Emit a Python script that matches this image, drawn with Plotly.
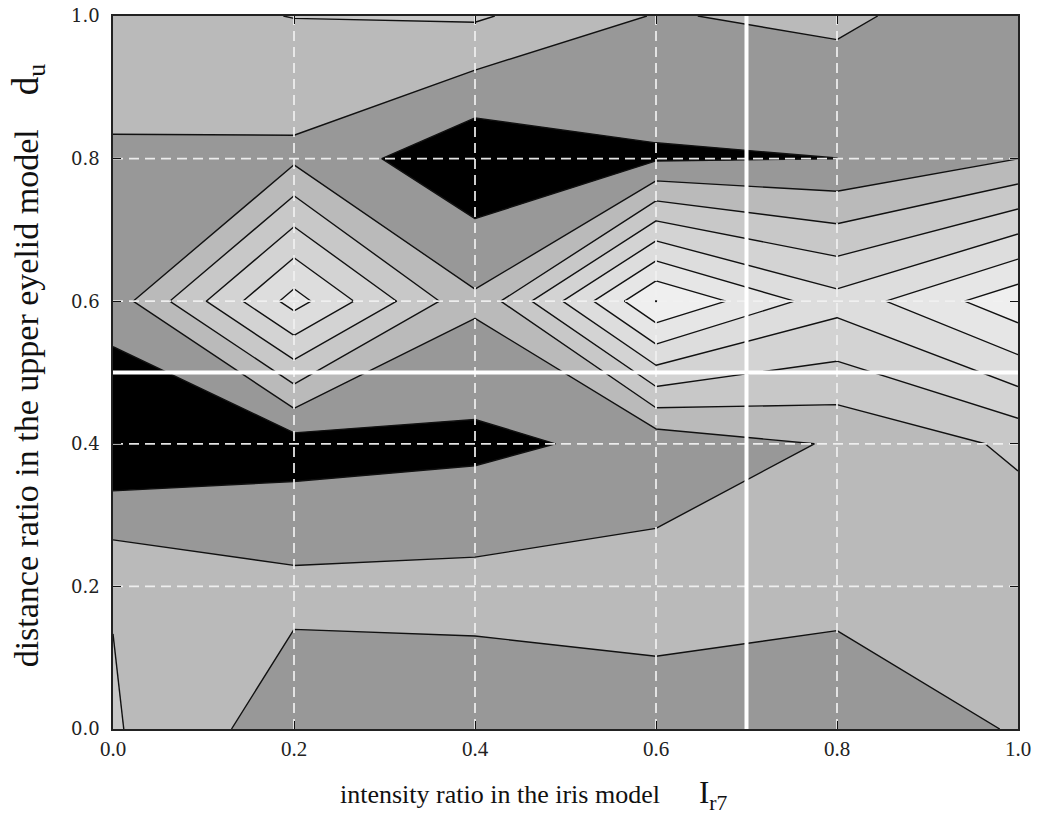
import plotly.graph_objects as go

# grid coordinates
x_vals = [0.0, 0.2, 0.4, 0.6, 0.8, 1.0]
y_vals = [0.0, 0.2, 0.4, 0.6, 0.8, 1.0]

# surface values (rows: y = 0.0 ... 1.0)
z_y00 = [3.10, 1.42, 1.40, 1.50, 1.11, 2.10]
z_y02 = [2.95, 2.25, 2.32, 2.48, 2.40, 2.15]
z_y04 = [0.04, 0.55, 0.76, 1.30, 2.10, 3.20]
z_y06 = [1.45, 6.40, 2.17, 8.02, 5.38, 7.68]
z_y08 = [1.86, 1.80, 0.15, 0.883, 0.995, 1.99]
z_y10 = [2.68, 3.02, 3.13, 1.94, 2.20, 1.31]

# contour levels and band colours (lowest band first)
level_start = 1
level_end = 8
level_step = 1
band_colors = ["#000000", "#989898", "#bababa", "#c8c8c8", "#d3d3d3",
               "#dddddd", "#e6e6e6", "#efefef", "#f7f7f7"]

# axis ticks
tick_vals = [0.0, 0.2, 0.4, 0.6, 0.8, 1.0]
tick_text = ["0.0", "0.2", "0.4", "0.6", "0.8", "1.0"]
grid_vals = [0.2, 0.4, 0.6, 0.8]

# white reference lines
ref_x = 0.7
ref_y = 0.5

x_title = ("intensity ratio in the iris model\u2003\u2002"
           "<span style='font-size:31px'>I<sub>r7</sub></span>")
y_title = ("distance ratio in the upper eyelid model\u2003"
           "<span style='font-size:37px'>d<sub>u</sub></span>")

z = [z_y00, z_y02, z_y04, z_y06, z_y08, z_y10]
n = len(band_colors) - 1
colorscale = [[i / n, c] for i, c in enumerate(band_colors)]

fig = go.Figure()
fig.add_trace(go.Contour(
    x=x_vals, y=y_vals, z=z,
    autocontour=False,
    contours=dict(start=level_start, end=level_end, size=level_step, coloring="fill"),
    colorscale=colorscale,
    showscale=False,
    line=dict(color="#111111", width=1.4, smoothing=0),
    hoverinfo="skip",
))

grid_style = dict(color="rgba(240,240,240,0.95)", width=1.8, dash="10px,6px")
for gv in grid_vals:
    fig.add_trace(go.Scatter(x=[gv, gv], y=[0, 1], mode="lines", line=grid_style,
                             showlegend=False, hoverinfo="skip"))
    fig.add_trace(go.Scatter(x=[0, 1], y=[gv, gv], mode="lines", line=grid_style,
                             showlegend=False, hoverinfo="skip"))

ref_style = dict(color="white", width=4)
fig.add_trace(go.Scatter(x=[ref_x, ref_x], y=[0, 1], mode="lines", line=ref_style,
                         showlegend=False, hoverinfo="skip"))
fig.add_trace(go.Scatter(x=[0, 1], y=[ref_y, ref_y], mode="lines", line=ref_style,
                         showlegend=False, hoverinfo="skip"))

axis_common = dict(
    range=[0, 1], tickvals=tick_vals, ticktext=tick_text,
    ticks="inside", ticklen=8, tickwidth=1.2, tickcolor="#111111",
    showline=True, linecolor="#222222", linewidth=1.6, mirror="ticks",
    showgrid=False, zeroline=False, automargin=False,
    ticklabeloverflow="allow",
)

fig.update_layout(
    width=1050, height=820,
    margin=dict(l=113, r=32, t=16, b=91),
    paper_bgcolor="white", plot_bgcolor="white",
    showlegend=False,
    xaxis=dict(
        **axis_common,
        tickfont=dict(family="Liberation Serif", size=21, color="#222222"),
        ticklabelstandoff=0,
    ),
    yaxis=dict(
        **axis_common,
        tickfont=dict(family="DejaVu Serif", size=18, color="#222222"),
        ticklabelstandoff=8,
    ),
    annotations=[
        dict(text=x_title, xref="paper", yref="paper", x=0.465, y=0,
             yshift=-66, xanchor="center", yanchor="middle", showarrow=False,
             font=dict(family="Liberation Serif", size=26, color="#111111")),
        dict(text=y_title, xref="paper", yref="paper", x=0, y=0.51,
             xshift=-85, xanchor="center", yanchor="middle", showarrow=False,
             textangle=-90,
             font=dict(family="Liberation Serif", size=34, color="#111111")),
    ],
)

# remove the default page margin so the figure fills the window exactly
fig.write_html("out.html", config={"displayModeBar": False},
               post_script="document.body.style.margin='0px';")
